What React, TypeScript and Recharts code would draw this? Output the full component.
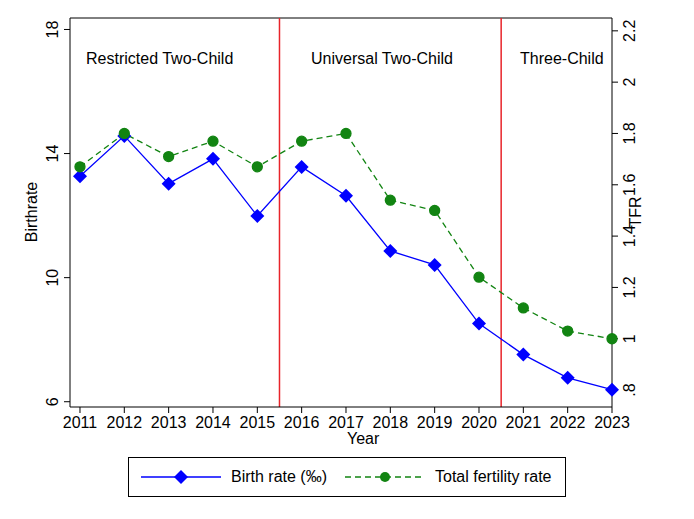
import { ComposedChart, Line, XAxis, YAxis, ReferenceLine } from 'recharts';

const years = [2011, 2012, 2013, 2014, 2015, 2016, 2017, 2018, 2019, 2020, 2021, 2022, 2023];
const birthRate = [13.27, 14.57, 13.03, 13.83, 11.99, 13.57, 12.64, 10.86, 10.41, 8.52, 7.52, 6.77, 6.39];
const tfr = [1.67, 1.8, 1.71, 1.77, 1.67, 1.77, 1.8, 1.54, 1.5, 1.24, 1.12, 1.03, 1.0];
const leftTicks = [6, 10, 14, 18];
const rightTicks = [0.8, 1, 1.2, 1.4, 1.6, 1.8, 2, 2.2];
const policyBreaks = [2015.5, 2020.5];

const data = years.map((year, i) => ({ year, birth: birthRate[i], tfr: tfr[i] }));

const FONT = '"Liberation Sans", Arial, sans-serif';

function RotTick({ x, y, payload, side }: any) {
  const label = side === 'right' && payload.value === 0.8 ? '.8' : String(payload.value);
  const dx = side === 'left' ? -4 : 4;
  return (
    <text
      x={x + dx}
      y={y}
      transform={`rotate(-90, ${x + dx}, ${y})`}
      textAnchor="middle"
      dominantBaseline={side === 'left' ? 'auto' : 'hanging'}
      fontSize={16}
      fill="#000"
      fontFamily={FONT}
    >
      {label}
    </text>
  );
}

export default function App() {
  return (
    <div style={{ position: 'absolute', left: 0, top: 0, width: 694, height: 519, background: '#fff', fontFamily: FONT }}>
      <ComposedChart width={694} height={519} data={data} margin={{ top: 18, right: 52, bottom: 82, left: 40 }}>
        <XAxis
          dataKey="year"
          type="number"
          domain={[2010.775, 2023]}
          ticks={years}
          height={30}
          stroke="#000"
          tick={{ fill: '#000', fontSize: 16, fontFamily: FONT }}
          tickMargin={4}
        />
        <YAxis
          yAxisId="left"
          domain={[5.83, 18.37]}
          ticks={leftTicks}
          stroke="#000"
          width={30}
          tick={<RotTick side="left" />}
        />
        <YAxis
          yAxisId="right"
          orientation="right"
          domain={[0.734, 2.25]}
          ticks={rightTicks}
          stroke="#000"
          width={30}
          tick={<RotTick side="right" />}
        />
        <ReferenceLine yAxisId="left" y={18.37} stroke="#000" />
        {policyBreaks.map((b) => (
          <ReferenceLine key={b} yAxisId="left" x={b} stroke="#e8242a" strokeWidth={1.5} />
        ))}
        <Line
          yAxisId="left"
          dataKey="birth"
          stroke="#0000ff"
          strokeWidth={1.3}
          isAnimationActive={false}
          dot={(p: any) => (
            <path key={p.index} d={`M${p.cx},${p.cy - 7}L${p.cx + 7},${p.cy}L${p.cx},${p.cy + 7}L${p.cx - 7},${p.cy}Z`} fill="#0000ff" />
          )}
        />
        <Line
          yAxisId="right"
          dataKey="tfr"
          stroke="#128412"
          strokeWidth={1.3}
          strokeDasharray="6 4"
          isAnimationActive={false}
          dot={{ r: 5, fill: '#128412', stroke: '#128412', strokeDasharray: '' }}
        />
      </ComposedChart>

      <div style={{ position: 'absolute', left: 86, top: 50, fontSize: 16 }}>Restricted Two-Child</div>
      <div style={{ position: 'absolute', left: 311, top: 50, fontSize: 16 }}>Universal Two-Child</div>
      <div style={{ position: 'absolute', left: 520, top: 50, fontSize: 16 }}>Three-Child</div>

      <div style={{ position: 'absolute', left: 32, top: 212, fontSize: 16, transform: 'translate(-50%,-50%) rotate(-90deg)' }}>Birthrate</div>
      <div style={{ position: 'absolute', left: 636, top: 212, fontSize: 16, transform: 'translate(-50%,-50%) rotate(-90deg)' }}>TFR</div>
      <div style={{ position: 'absolute', left: 347, top: 430, fontSize: 16 }}>Year</div>

      <div
        style={{
          position: 'absolute', left: 128, top: 457, width: 438, height: 40, boxSizing: 'border-box',
          border: '1px solid #000', display: 'flex', alignItems: 'center', fontSize: 16,
        }}
      >
        <svg width={80} height={20} style={{ marginLeft: 12 }}>
          <line x1={0} y1={10} x2={80} y2={10} stroke="#0000ff" strokeWidth={1.3} />
          <path d="M40,3L47,10L40,17L33,10Z" fill="#0000ff" />
        </svg>
        <span style={{ marginLeft: 10 }}>Birth rate (‰)</span>
        <svg width={80} height={20} style={{ marginLeft: 18 }}>
          <line x1={0} y1={10} x2={80} y2={10} stroke="#128412" strokeWidth={1.3} strokeDasharray="6 4" />
          <circle cx={40} cy={10} r={5} fill="#128412" />
        </svg>
        <span style={{ marginLeft: 10 }}>Total fertility rate</span>
      </div>
    </div>
  );
}
